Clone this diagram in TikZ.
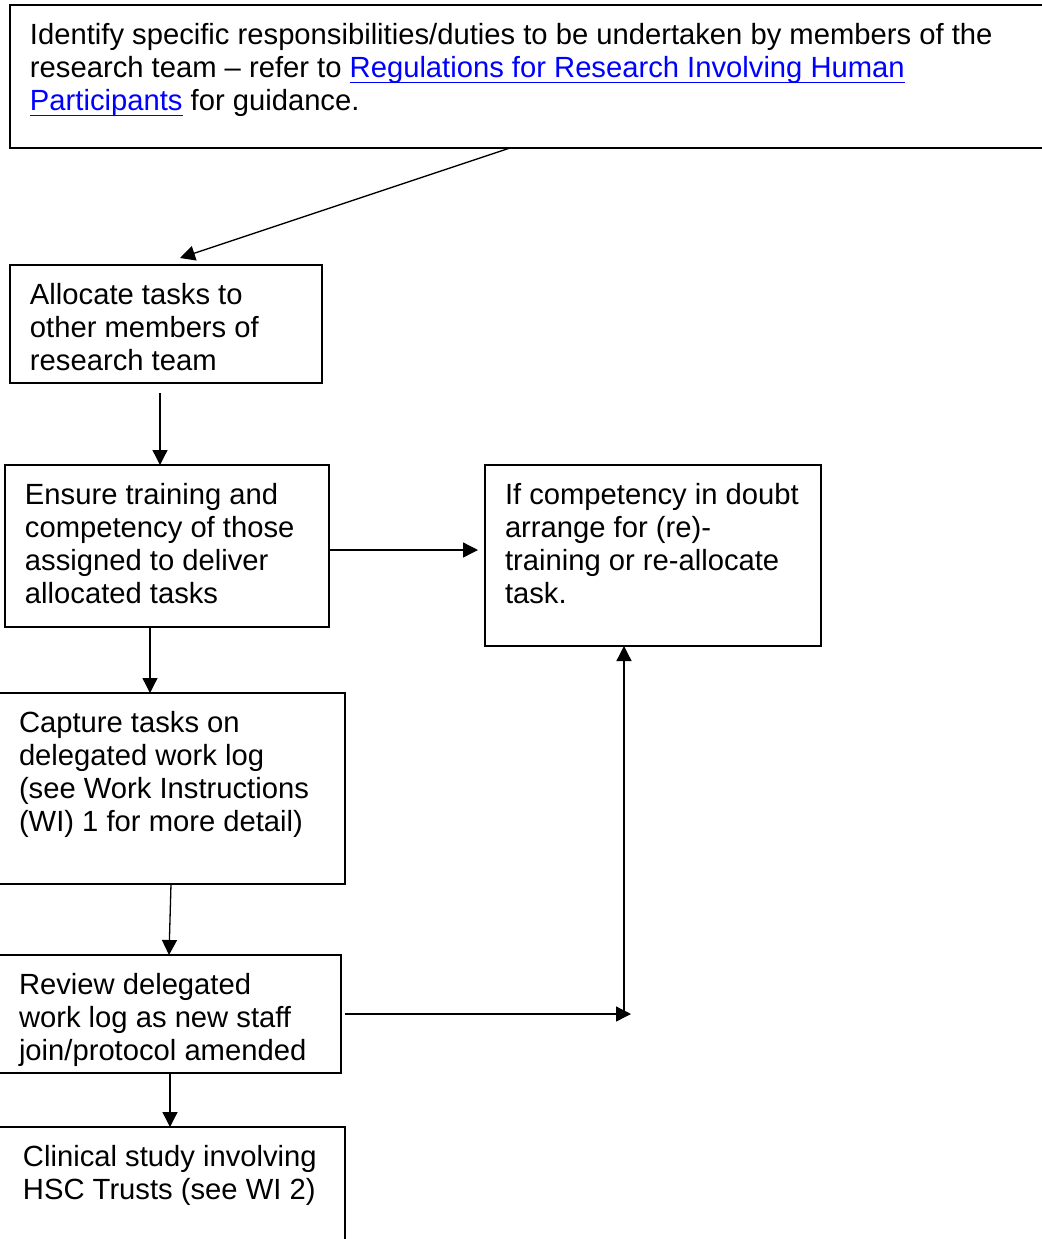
\documentclass[tikz,border=0pt]{standalone}
\usepackage{fontspec}
\setmainfont{Liberation Sans}
\usetikzlibrary{positioning,arrows.meta}
\definecolor{linkblue}{RGB}{0,0,255}
\hfuzz=30pt
\newcommand{\steptext}[3]{\parbox[t][#2][t]{#1}{\begin{tabular}[t]{@{}l@{}}#3\end{tabular}}}
\newcommand{\weblink}[1]{{\color{linkblue}\setbox0\hbox{#1}\rlap{\vrule height -2.2pt depth 3.1pt width \wd0}\box0}}

\begin{document}
\begin{tikzpicture}[x=0.5pt, y=-0.5pt,
        font=\fontsize{14.6pt}{16.5pt}\selectfont,
        stage/.style={draw, line width=1pt, inner xsep=10pt, inner ysep=8pt, outer sep=0pt},
        flow/.style={line width=0.65pt, -{Triangle[length=7.5pt,width=7.5pt]}}]
        \useasboundingbox (0,0) rectangle (1041,1239);
        % boxes
        \node[stage, anchor=north west] (intro) at (10,5) {\steptext{500pt}{55.5pt}{Identify specific responsibilities/duties to be undertaken by members of the\\ research team -- refer to \weblink{Regulations for Research Involving Human}\\ \weblink{Participants} for guidance.}};
        \node[stage, below=58.5pt of intro.south west, anchor=north west] (alloc) {\steptext{136pt}{43pt}{Allocate tasks to\\ other members of\\ research team}};
        \node[stage, below=41pt of alloc.south west, anchor=north west, xshift=-2.5pt] (ensure) {\steptext{142pt}{65pt}{Ensure training and\\ competency of those\\ assigned to deliver\\ allocated tasks}};
        \node[stage, right=78pt of ensure.north east, anchor=north west] (doubt) {\steptext{148pt}{74.5pt}{If competency in doubt\\ arrange for (re)-\\ training or re-allocate\\ task.}};
        \node[stage, below=33pt of ensure.south west, anchor=north west, xshift=-3pt] (capture) {\steptext{153pt}{79.5pt}{Capture tasks on\\ delegated work log\\ (see Work Instructions\\ (WI) 1 for more detail)}};
        \node[stage, below=35.5pt of capture.south west, anchor=north west] (review) {\steptext{151pt}{43pt}{Review delegated\\ work log as new staff\\ join/protocol amended}};
        \node[stage, inner xsep=12pt, below=27pt of review.south west, anchor=north west] (clinical) {\steptext{149pt}{45.5pt}{Clinical study involving\\ HSC Trusts (see WI 2)}};
        % arrows
        \draw[flow] ([xshift=250pt]intro.south west) -- ([xshift=85pt,yshift=3.5pt]alloc.north west);
        \draw[flow] ([xshift=75pt,yshift=-5pt]alloc.south west) -- ([xshift=77.5pt]ensure.north west);
        \draw[flow, shorten >=3.5pt] ([yshift=-2pt]ensure.east) -- ([yshift=-2pt]ensure.east -| doubt.west);
        \draw[flow] ([xshift=72.5pt]ensure.south west) -- ([xshift=75.5pt]capture.north west);
        \draw[flow] ([xshift=86pt]capture.south west) -- ([xshift=85pt]review.north west);
        \draw[flow] ([xshift=2pt]review.east) -- ([xshift=73pt]doubt.south west |- review.east);
        \draw[flow] ([xshift=69.5pt]doubt.south west |- review.east) -- ([xshift=69.5pt]doubt.south west);
        \draw[flow] ([xshift=85.5pt]review.south west) -- ([xshift=85.5pt]clinical.north west);
\end{tikzpicture}
\end{document}
